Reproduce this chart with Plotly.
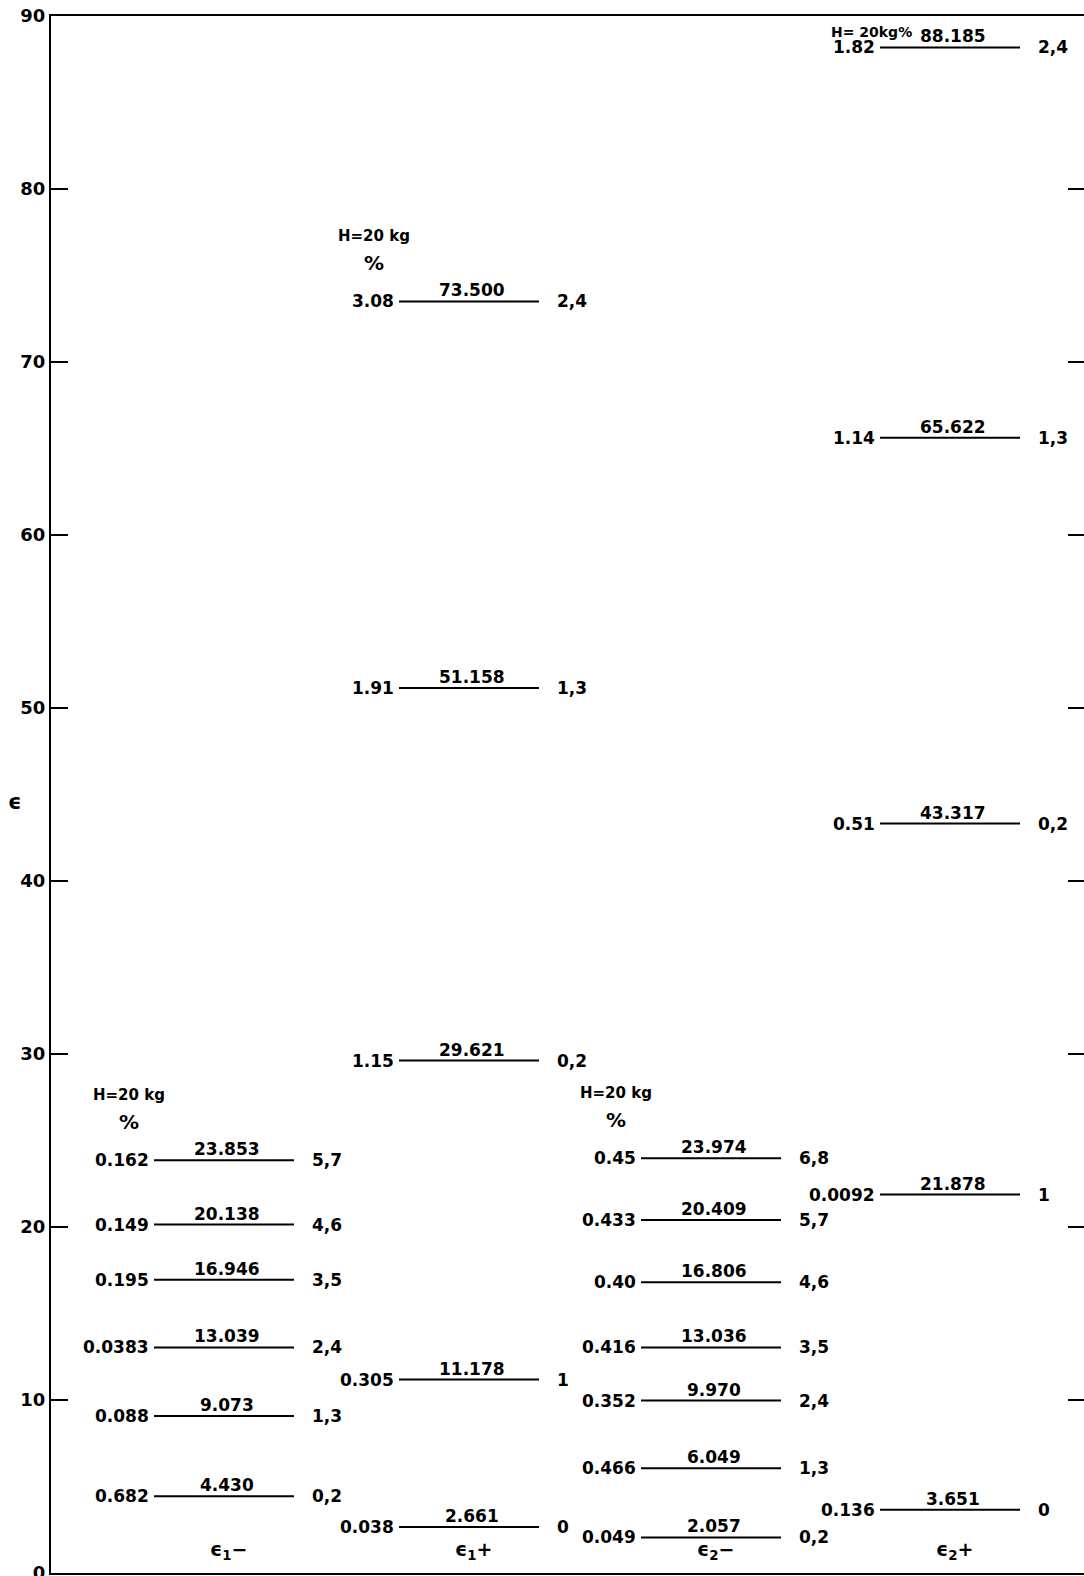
import plotly.graph_objects as go

# ---------------- data ----------------
column_labels = ["ϵ<sub>1</sub>−", "ϵ<sub>1</sub>+", "ϵ<sub>2</sub>−", "ϵ<sub>2</sub>+"]

eps1_minus_energy = [23.853, 20.138, 16.946, 13.039, 9.073, 4.430]
eps1_minus_percent = ["0.162", "0.149", "0.195", "0.0383", "0.088", "0.682"]
eps1_minus_states = ["5,7", "4,6", "3,5", "2,4", "1,3", "0,2"]

eps1_plus_energy = [73.500, 51.158, 29.621, 11.178, 2.661]
eps1_plus_percent = ["3.08", "1.91", "1.15", "0.305", "0.038"]
eps1_plus_states = ["2,4", "1,3", "0,2", "1", "0"]

eps2_minus_energy = [23.974, 20.409, 16.806, 13.036, 9.970, 6.049, 2.057]
eps2_minus_percent = ["0.45", "0.433", "0.40", "0.416", "0.352", "0.466", "0.049"]
eps2_minus_states = ["6,8", "5,7", "4,6", "3,5", "2,4", "1,3", "0,2"]

eps2_plus_energy = [88.185, 65.622, 43.317, 21.878, 3.651]
eps2_plus_percent = ["1.82", "1.14", "0.51", "0.0092", "0.136"]
eps2_plus_states = ["2,4", "1,3", "0,2", "1", "0"]

field_label = "H=20 kg"
field_label_inline = "H= 20kg%"
percent_label = "%"
y_ticks = [0, 10, 20, 30, 40, 50, 60, 70, 80, 90]
y_title = "ϵ"

columns = [
    (eps1_minus_energy, eps1_minus_percent, eps1_minus_states),
    (eps1_plus_energy, eps1_plus_percent, eps1_plus_states),
    (eps2_minus_energy, eps2_minus_percent, eps2_minus_states),
    (eps2_plus_energy, eps2_plus_percent, eps2_plus_states),
]

# ---------------- layout constants ----------------
W, H = 1084, 1576
ML, MR, MT, MB = 51, 0, 16, 3
col_centers = [224, 469, 711, 950]   # in x-axis units (= pixels)
half_w = 70
FONT = "DejaVu Sans"
FS = 17
WT = "bold"

def F(size=FS):
    return dict(family=FONT, size=size, color="black", weight=WT)

fig = go.Figure()

xs, ys = [], []
for c, (energy, _, _) in zip(col_centers, columns):
    for e in energy:
        xs += [c - half_w, c + half_w, None]
        ys += [e, e, None]
fig.add_trace(go.Scatter(x=xs, y=ys, mode="lines",
                         line=dict(color="black", width=2),
                         hoverinfo="skip", showlegend=False))
# invisible trace for the right-hand tick axis
fig.add_trace(go.Scatter(x=[ML + 5], y=[45], yaxis="y2", mode="markers",
                         marker=dict(opacity=0), hoverinfo="skip", showlegend=False))

ann = []
def A(**kw):
    base = dict(showarrow=False, font=F())
    base.update(kw)
    ann.append(base)

for i, (c, (energy, pct, st)) in enumerate(zip(col_centers, columns)):
    for e, p, s in zip(energy, pct, st):
        A(x=c + 3, y=e, text=f"{e:.3f}", xanchor="center", yanchor="bottom", yshift=-1)
        A(x=c - half_w, y=e, text=p, xanchor="right", yanchor="middle", xshift=-3)
        A(x=c + half_w, y=e, text=s, xanchor="left", yanchor="middle", xshift=16)
    top = max(energy)
    if i < 3:
        A(x=c - 95, y=top + 3.8, text=field_label, xanchor="center", yanchor="middle",
          font=F(15))
        A(x=c - 95, y=top + 2.2, text=percent_label, xanchor="center", yanchor="middle",
          font=F(20))
    else:
        A(x=c - 36, y=top, text=field_label_inline, xanchor="right", yanchor="bottom",
          yshift=5, font=F(14))
    A(x=c + 4, y=1.3, text=column_labels[i], xanchor="center", yanchor="middle",
      font=F(19))

A(x=-0.035, y=0.495, xref="paper", yref="paper", text=y_title, xanchor="center",
  yanchor="middle", font=F(21))

fig.update_layout(
    width=W, height=H,
    margin=dict(l=ML, r=MR, t=MT, b=MB, autoexpand=False),
    paper_bgcolor="white", plot_bgcolor="white",
    annotations=ann,
    xaxis=dict(range=[ML, W], showgrid=False, zeroline=False, showticklabels=False,
               ticks="", showline=True, mirror=True, linecolor="black", linewidth=2),
    yaxis=dict(range=[0, 90], tickvals=y_ticks, ticktext=[str(t) for t in y_ticks],
               ticks="inside", ticklen=17, tickwidth=2, tickcolor="black",
               showgrid=False, zeroline=False, showline=True, linecolor="black",
               linewidth=2, tickfont=F(18), ticklabeloverflow="allow"),
    yaxis2=dict(range=[0, 90], tickvals=y_ticks[1:-1], overlaying="y", side="right",
                ticks="inside", ticklen=16, tickwidth=2, tickcolor="black",
                showgrid=False, zeroline=False, showline=False, showticklabels=False),
)

fig.write_html(
    "out.html",
    config={"displayModeBar": False},
    post_script="document.body.style.margin='0';document.body.style.overflow='hidden';",
)
